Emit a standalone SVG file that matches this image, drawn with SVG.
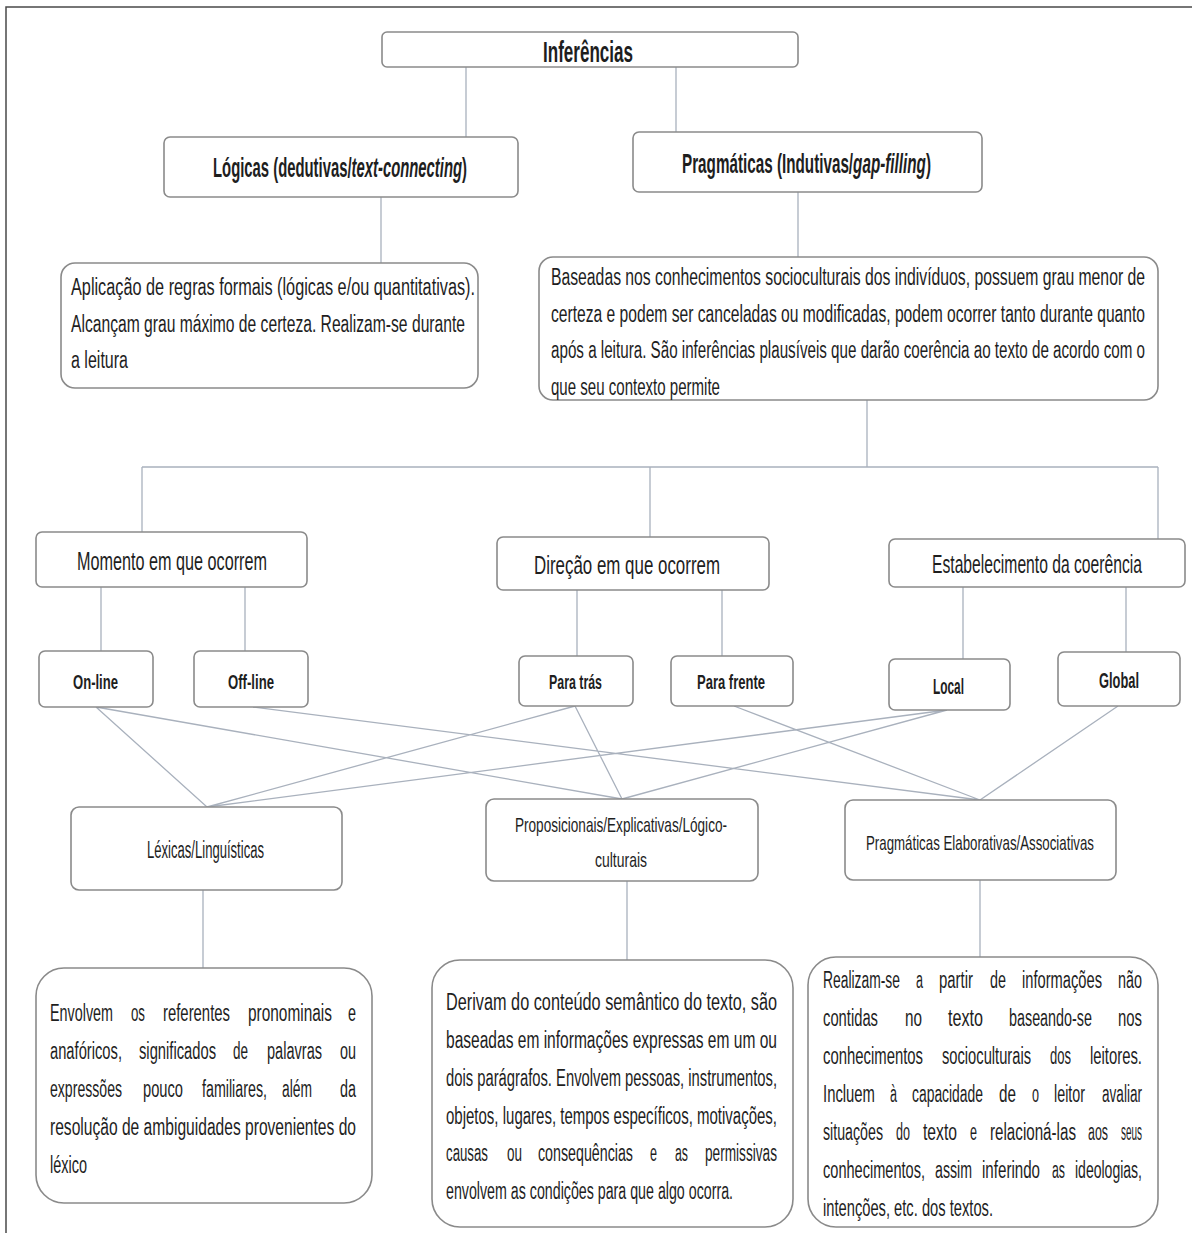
<svg xmlns="http://www.w3.org/2000/svg" width="1192" height="1233" viewBox="0 0 1192 1233">
<style>
text{font-family:"Liberation Sans Narrow","Liberation Sans",Arial,sans-serif;fill:#1e1e1e}
.box{fill:#ffffff;stroke:#8a8a8a;stroke-width:1.6}
.c{stroke:#a9b1bd;stroke-width:1.3;fill:none}
.frame{stroke:#4a4a4a;stroke-width:1.5;fill:none}
.b{font-weight:bold}
.i{font-style:italic}
.t30{font-size:30px}
.t28{font-size:28px}
.t25{font-size:25px}
.t23{font-size:23px}
.t22{font-size:22px}
.t21{font-size:21px}
</style>
<rect width="1192" height="1233" fill="#ffffff"/>
<path class="frame" d="M6 1233 V7 H1192"/>

<g id="connectors">
<path class="c" d="M466 67 V137 M676 67 V132 M381 197 V263 M798 192 V257 M867 400 V467 M142 467 H1158 M142 467 V532 M650 467 V537 M1158 467 V539 M101 587 V651 M245 587 V651 M577 590 V656 M722 590 V656 M963 587 V659 M1126 587 V652 M203 890 V968 M627 881 V960 M980 880 V957"/>
<path class="c" d="M96 707 L207 807 M96 707 L622 799 M253 707 L980 800 M575 706 L207 807 M575 706 L622 799 M734 706 L980 800 M947 710 L207 807 M947 710 L622 799 M1118 706 L980 800"/>
</g>

<g id="inferencias">
<rect class="box" x="382" y="32" width="416" height="35" rx="5"/>
<text class="b t30" x="543" y="62" textLength="90" lengthAdjust="spacingAndGlyphs">Inferências</text>
</g>

<g id="logicas">
<rect class="box" x="164" y="137" width="354" height="60" rx="6"/>
<text class="b t28" x="213" y="177" textLength="254" lengthAdjust="spacingAndGlyphs">Lógicas (dedutivas/<tspan class="i">text-connecting</tspan>)</text>
</g>

<g id="pragmaticas">
<rect class="box" x="633" y="132" width="349" height="60" rx="6"/>
<text class="b t28" x="682" y="173" textLength="249" lengthAdjust="spacingAndGlyphs">Pragmáticas (Indutivas/<tspan class="i">gap-filling</tspan>)</text>
</g>

<g id="aplicacao">
<rect class="box" x="61" y="263" width="417" height="125" rx="14"/>
<text class="t23" x="71" y="295" textLength="404" lengthAdjust="spacingAndGlyphs">Aplicação de regras formais (lógicas e/ou quantitativas).</text>
<text class="t23" x="71" y="332" textLength="394" lengthAdjust="spacingAndGlyphs">Alcançam grau máximo de certeza. Realizam-se durante</text>
<text class="t23" x="71" y="368" textLength="57" lengthAdjust="spacingAndGlyphs">a leitura</text>
</g>

<g id="baseadas">
<rect class="box" x="539" y="257" width="619" height="143" rx="14"/>
<text class="t23" x="551" y="285" textLength="594" lengthAdjust="spacingAndGlyphs">Baseadas nos conhecimentos socioculturais dos indivíduos, possuem grau menor de</text>
<text class="t23" x="551" y="322" textLength="594" lengthAdjust="spacingAndGlyphs">certeza e podem ser canceladas ou modificadas, podem ocorrer tanto durante quanto</text>
<text class="t23" x="551" y="358" textLength="594" lengthAdjust="spacingAndGlyphs">após a leitura. São inferências plausíveis que darão coerência ao texto de acordo com o</text>
<text class="t23" x="551" y="395" textLength="169" lengthAdjust="spacingAndGlyphs">que seu contexto permite</text>
</g>

<g id="momento">
<rect class="box" x="36" y="532" width="271" height="55" rx="6"/>
<text class="t25" x="77" y="570" textLength="190" lengthAdjust="spacingAndGlyphs">Momento em que ocorrem</text>
</g>

<g id="direcao">
<rect class="box" x="497" y="537" width="272" height="53" rx="6"/>
<text class="t25" x="534" y="574" textLength="186" lengthAdjust="spacingAndGlyphs">Direção em que ocorrem</text>
</g>

<g id="estabelecimento">
<rect class="box" x="889" y="539" width="296" height="48" rx="6"/>
<text class="t25" x="932" y="573" textLength="210" lengthAdjust="spacingAndGlyphs">Estabelecimento da coerência</text>
</g>

<g id="online">
<rect class="box" x="39" y="651" width="114" height="56" rx="6"/>
<text class="b t21" x="73" y="689" textLength="45" lengthAdjust="spacingAndGlyphs">On-line</text>
</g>

<g id="offline">
<rect class="box" x="194" y="651" width="114" height="56" rx="6"/>
<text class="b t21" x="228" y="689" textLength="46" lengthAdjust="spacingAndGlyphs">Off-line</text>
</g>

<g id="paratras">
<rect class="box" x="519" y="656" width="114" height="50" rx="6"/>
<text class="b t21" x="549" y="689" textLength="53" lengthAdjust="spacingAndGlyphs">Para trás</text>
</g>

<g id="parafrente">
<rect class="box" x="671" y="656" width="122" height="50" rx="6"/>
<text class="b t21" x="697" y="689" textLength="68" lengthAdjust="spacingAndGlyphs">Para frente</text>
</g>

<g id="local">
<rect class="box" x="889" y="659" width="121" height="51" rx="6"/>
<text class="b t22" x="933" y="694" textLength="31" lengthAdjust="spacingAndGlyphs">Local</text>
</g>

<g id="global">
<rect class="box" x="1058" y="652" width="122" height="54" rx="6"/>
<text class="b t22" x="1099" y="688" textLength="40" lengthAdjust="spacingAndGlyphs">Global</text>
</g>

<g id="lexicas">
<rect class="box" x="71" y="807" width="271" height="83" rx="8"/>
<text class="t23" x="147" y="858" textLength="117" lengthAdjust="spacingAndGlyphs">Léxicas/Linguísticas</text>
</g>

<g id="proposicionais">
<rect class="box" x="486" y="799" width="272" height="82" rx="8"/>
<text class="t21" x="515" y="832" textLength="212" lengthAdjust="spacingAndGlyphs">Proposicionais/Explicativas/Lógico-</text>
<text class="t21" x="595" y="867" textLength="52" lengthAdjust="spacingAndGlyphs">culturais</text>
</g>

<g id="pragmaticas-elaborativas">
<rect class="box" x="845" y="800" width="271" height="80" rx="8"/>
<text class="t21" x="866" y="850" textLength="228" lengthAdjust="spacingAndGlyphs">Pragmáticas Elaborativas/Associativas</text>
</g>

<g id="envolvem" class="t23">
<rect class="box" x="36" y="968" width="336" height="235" rx="28"/>
<text y="1021"><tspan x="50" textLength="63" lengthAdjust="spacingAndGlyphs">Envolvem</tspan> <tspan x="131" textLength="14" lengthAdjust="spacingAndGlyphs">os</tspan> <tspan x="163" textLength="67" lengthAdjust="spacingAndGlyphs">referentes</tspan> <tspan x="248" textLength="84" lengthAdjust="spacingAndGlyphs">pronominais</tspan> <tspan x="348" textLength="8" lengthAdjust="spacingAndGlyphs">e</tspan></text>
<text y="1059"><tspan x="50" textLength="72" lengthAdjust="spacingAndGlyphs">anafóricos,</tspan> <tspan x="139" textLength="77" lengthAdjust="spacingAndGlyphs">significados</tspan> <tspan x="233" textLength="15" lengthAdjust="spacingAndGlyphs">de</tspan> <tspan x="267" textLength="55" lengthAdjust="spacingAndGlyphs">palavras</tspan> <tspan x="340" textLength="16" lengthAdjust="spacingAndGlyphs">ou</tspan></text>
<text y="1097"><tspan x="50" textLength="72" lengthAdjust="spacingAndGlyphs">expressões</tspan> <tspan x="143" textLength="40" lengthAdjust="spacingAndGlyphs">pouco</tspan> <tspan x="202" textLength="65" lengthAdjust="spacingAndGlyphs">familiares,</tspan> <tspan x="282" textLength="30" lengthAdjust="spacingAndGlyphs">além</tspan> <tspan x="340" textLength="16" lengthAdjust="spacingAndGlyphs">da</tspan></text>
<text x="50" y="1135" textLength="306" lengthAdjust="spacingAndGlyphs">resolução de ambiguidades provenientes do</text>
<text x="50" y="1173" textLength="37" lengthAdjust="spacingAndGlyphs">léxico</text>
</g>

<g id="derivam" class="t23">
<rect class="box" x="432" y="960" width="361" height="267" rx="28"/>
<text x="446" y="1010" textLength="331" lengthAdjust="spacingAndGlyphs">Derivam do conteúdo semântico do texto, são</text>
<text x="446" y="1048" textLength="331" lengthAdjust="spacingAndGlyphs">baseadas em informações expressas em um ou</text>
<text x="446" y="1086" textLength="331" lengthAdjust="spacingAndGlyphs">dois parágrafos. Envolvem pessoas, instrumentos,</text>
<text x="446" y="1124" textLength="331" lengthAdjust="spacingAndGlyphs">objetos, lugares, tempos específicos, motivações,</text>
<text y="1161"><tspan x="446" textLength="42" lengthAdjust="spacingAndGlyphs">causas</tspan> <tspan x="507" textLength="15" lengthAdjust="spacingAndGlyphs">ou</tspan> <tspan x="538" textLength="95" lengthAdjust="spacingAndGlyphs">consequências</tspan> <tspan x="650" textLength="7" lengthAdjust="spacingAndGlyphs">e</tspan> <tspan x="675" textLength="13" lengthAdjust="spacingAndGlyphs">as</tspan> <tspan x="705" textLength="72" lengthAdjust="spacingAndGlyphs">permissivas</tspan></text>
<text x="446" y="1199" textLength="287" lengthAdjust="spacingAndGlyphs">envolvem as condições para que algo ocorra.</text>
</g>

<g id="realizam" class="t23">
<rect class="box" x="808" y="957" width="350" height="270" rx="28"/>
<text y="988"><tspan x="823" textLength="77" lengthAdjust="spacingAndGlyphs">Realizam-se</tspan> <tspan x="916" textLength="7" lengthAdjust="spacingAndGlyphs">a</tspan> <tspan x="939" textLength="34" lengthAdjust="spacingAndGlyphs">partir</tspan> <tspan x="990" textLength="16" lengthAdjust="spacingAndGlyphs">de</tspan> <tspan x="1022" textLength="80" lengthAdjust="spacingAndGlyphs">informações</tspan> <tspan x="1118" textLength="24" lengthAdjust="spacingAndGlyphs">não</tspan></text>
<text y="1026"><tspan x="823" textLength="55" lengthAdjust="spacingAndGlyphs">contidas</tspan> <tspan x="905" textLength="17" lengthAdjust="spacingAndGlyphs">no</tspan> <tspan x="948" textLength="35" lengthAdjust="spacingAndGlyphs">texto</tspan> <tspan x="1009" textLength="83" lengthAdjust="spacingAndGlyphs">baseando-se</tspan> <tspan x="1118" textLength="24" lengthAdjust="spacingAndGlyphs">nos</tspan></text>
<text y="1064"><tspan x="823" textLength="100" lengthAdjust="spacingAndGlyphs">conhecimentos</tspan> <tspan x="942" textLength="89" lengthAdjust="spacingAndGlyphs">socioculturais</tspan> <tspan x="1050" textLength="21" lengthAdjust="spacingAndGlyphs">dos</tspan> <tspan x="1090" textLength="52" lengthAdjust="spacingAndGlyphs">leitores.</tspan></text>
<text y="1102"><tspan x="823" textLength="52" lengthAdjust="spacingAndGlyphs">Incluem</tspan> <tspan x="890" textLength="7" lengthAdjust="spacingAndGlyphs">à</tspan> <tspan x="912" textLength="71" lengthAdjust="spacingAndGlyphs">capacidade</tspan> <tspan x="999" textLength="17" lengthAdjust="spacingAndGlyphs">de</tspan> <tspan x="1032" textLength="7" lengthAdjust="spacingAndGlyphs">o</tspan> <tspan x="1054" textLength="31" lengthAdjust="spacingAndGlyphs">leitor</tspan> <tspan x="1102" textLength="40" lengthAdjust="spacingAndGlyphs">avaliar</tspan></text>
<text y="1140"><tspan x="823" textLength="60" lengthAdjust="spacingAndGlyphs">situações</tspan> <tspan x="896" textLength="14" lengthAdjust="spacingAndGlyphs">do</tspan> <tspan x="923" textLength="34" lengthAdjust="spacingAndGlyphs">texto</tspan> <tspan x="970" textLength="7" lengthAdjust="spacingAndGlyphs">e</tspan> <tspan x="990" textLength="86" lengthAdjust="spacingAndGlyphs">relacioná-las</tspan> <tspan x="1088" textLength="20" lengthAdjust="spacingAndGlyphs">aos</tspan> <tspan x="1121" textLength="21" lengthAdjust="spacingAndGlyphs">seus</tspan></text>
<text y="1178"><tspan x="823" textLength="102" lengthAdjust="spacingAndGlyphs">conhecimentos,</tspan> <tspan x="935" textLength="37" lengthAdjust="spacingAndGlyphs">assim</tspan> <tspan x="982" textLength="58" lengthAdjust="spacingAndGlyphs">inferindo</tspan> <tspan x="1052" textLength="13" lengthAdjust="spacingAndGlyphs">as</tspan> <tspan x="1075" textLength="67" lengthAdjust="spacingAndGlyphs">ideologias,</tspan></text>
<text x="823" y="1216" textLength="170" lengthAdjust="spacingAndGlyphs">intenções, etc. dos textos.</text>
</g>
</svg>
